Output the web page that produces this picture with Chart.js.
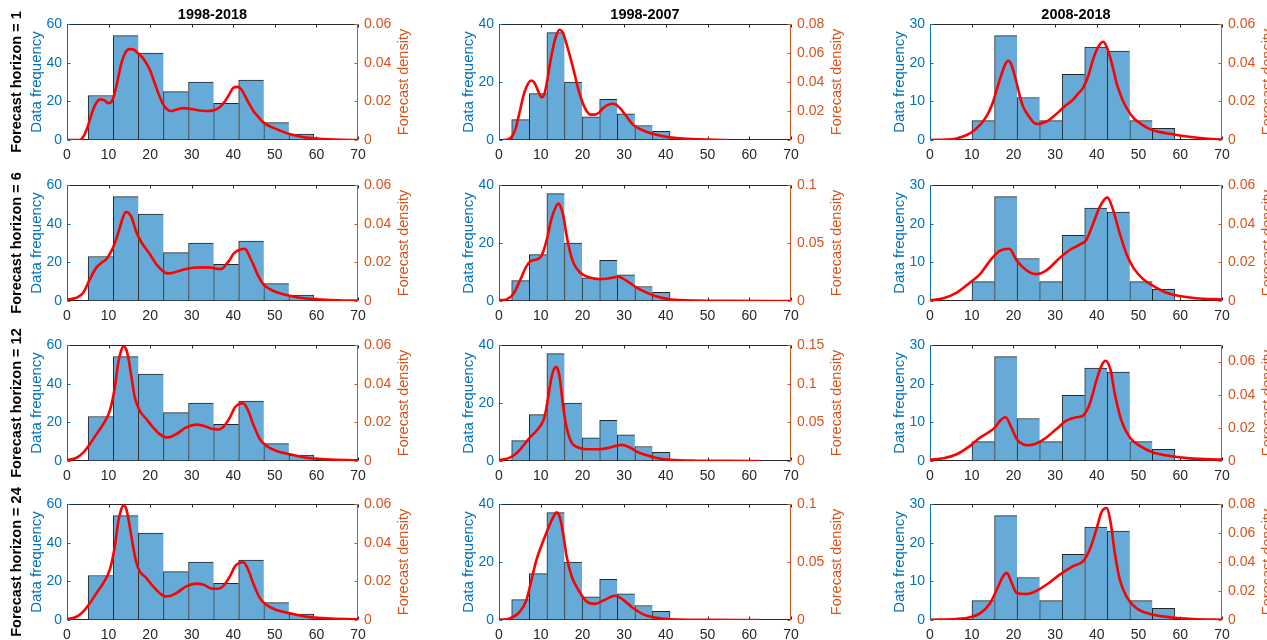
<!DOCTYPE html>
<html>
<head>
<meta charset="utf-8">
<script src="https://cdn.jsdelivr.net/npm/chart.js@4"></script>
<style>
html,body{margin:0;padding:0;background:#fff;overflow:hidden;width:1267px;height:640px;position:relative;}
canvas{position:absolute;}
</style>
</head>
<body>
<script>
// ---------------- DATA ----------------
const periods = ['1998-2018', '1998-2007', '2008-2018'];
const horizonLabels = ['Forecast horizon = 1', 'Forecast horizon = 6', 'Forecast horizon = 12', 'Forecast horizon = 24'];
const leftTitle = 'Data frequency';
const rightTitle = 'Forecast density';

// histogram bin edges and counts (same for every horizon)
const edgesAll   = [5.1, 11.13, 17.17, 23.2, 29.23, 35.27, 41.3, 47.33, 53.37, 59.4];
const countsAll  = [23, 54, 45, 25, 30, 19, 31, 9, 3];
const edgesEarly = [3.04, 7.26, 11.48, 15.69, 19.91, 24.13, 28.35, 32.57, 36.78, 41.0];
const countsEarly = [7, 16, 37, 20, 8, 14, 9, 5, 3];
const edgesLate  = [10.07, 15.47, 20.88, 26.28, 31.68, 37.09, 42.49, 47.89, 53.3, 58.7];
const countsLate = [5, 27, 11, 5, 17, 24, 23, 5, 3];

// axis limits
const xMax = 70;
const xStep = 10;
const freqMax  = [60, 40, 30];
const freqStep = [20, 20, 10];
const densMaxH1  = [0.06, 0.08, 0.06];
const densStepH1 = [0.02, 0.02, 0.02];
const densMaxH6  = [0.06, 0.1, 0.06];
const densStepH6 = [0.02, 0.05, 0.02];
const densMaxH12  = [0.06, 0.15, 0.07];
const densStepH12 = [0.02, 0.05, 0.02];
const densMaxH24  = [0.06, 0.1, 0.08];
const densStepH24 = [0.02, 0.05, 0.02];

// forecast densities [x, density]
const densH1All = [[0,0],[3,0],[4,0.002],[5,0.007],[6,0.014],[7,0.019],[8,0.021],[9,0.0205],[10,0.019],[11,0.021],[12,0.029],[13,0.039],[14,0.045],[15,0.047],[16,0.0468],[17,0.045],[18,0.043],[19,0.040],[20,0.036],[21,0.030],[22,0.024],[23,0.019],[24,0.016],[25,0.015],[26,0.0155],[28,0.0165],[30,0.016],[32,0.0153],[34,0.015],[35,0.0152],[36,0.016],[37,0.0175],[38,0.020],[39,0.0235],[40,0.027],[41,0.0275],[42,0.026],[43,0.022],[44,0.018],[45,0.0145],[46,0.012],[47,0.0096],[48,0.008],[50,0.006],[52,0.0042],[54,0.0028],[56,0.0018],[58,0.0011],[60,0.0007],[63,0.0003],[66,0.0001],[70,0]];
const densH1Early = [[1,0],[2,0.0003],[3,0.002],[4,0.008],[5,0.02],[6,0.032],[7,0.039],[7.7,0.041],[8.5,0.0395],[9.5,0.033],[10.2,0.0295],[10.8,0.031],[11.5,0.04],[12.5,0.057],[13.5,0.07],[14.5,0.076],[15.3,0.074],[16,0.068],[17,0.058],[18,0.047],[19,0.035],[20,0.026],[21,0.02],[22,0.0175],[23,0.0175],[24,0.019],[25,0.022],[26,0.024],[27.2,0.025],[28,0.0245],[29,0.022],[30,0.0185],[31,0.0145],[32,0.011],[33,0.0088],[34,0.0073],[35,0.006],[36,0.005],[38,0.0035],[40,0.0023],[42,0.0015],[45,0.0008],[48,0.0004],[52,0.0001],[55,0]];
const densH1Late = [[0,0],[4,0.0002],[6,0.0006],[7,0.0012],[8.8,0.0026],[10,0.004],[12,0.0078],[13,0.0105],[14,0.014],[15,0.019],[16,0.026],[17,0.033],[18,0.039],[18.75,0.041],[19.5,0.039],[20.75,0.0296],[21.5,0.023],[22.3,0.0174],[23,0.0145],[24,0.0113],[25,0.0088],[26,0.0083],[27,0.0088],[28,0.0096],[29.5,0.012],[31,0.0148],[32.5,0.0178],[34.3,0.0209],[35.5,0.024],[36.7,0.027],[38,0.0335],[39.1,0.0417],[40.3,0.048],[41.5,0.0508],[42.3,0.0485],[43.1,0.0435],[44,0.036],[44.7,0.0296],[45.5,0.0245],[46.3,0.02],[47.9,0.0139],[49,0.011],[50.3,0.0087],[52.7,0.0056],[54.5,0.0044],[56.7,0.0035],[60.7,0.0021],[65.4,0.0009],[70,0.0002]];

const densH6All = [[0,0.0008],[1,0.001],[2.3,0.0017],[3.9,0.0043],[5.5,0.0113],[7.1,0.0174],[8.3,0.0198],[9.5,0.0217],[11.1,0.0278],[12,0.033],[12.7,0.038],[13.5,0.0435],[14.2,0.046],[14.8,0.0455],[15.5,0.0435],[16.7,0.0356],[17.9,0.0304],[19.9,0.0243],[21.5,0.019],[23.5,0.0148],[24.3,0.0143],[25.5,0.0146],[27.1,0.0157],[29.5,0.0169],[31.5,0.0173],[33.5,0.0174],[35,0.0172],[36.7,0.0165],[37.5,0.017],[38.3,0.019],[39.2,0.0215],[40,0.0243],[41,0.026],[42.8,0.027],[43.5,0.025],[44,0.0226],[44.8,0.019],[45.6,0.0148],[46.4,0.0115],[47.2,0.0087],[48.8,0.0061],[50.5,0.0045],[52,0.0035],[56,0.0017],[60,0.0009],[65,0.0004],[70,0.0002]];
const densH6Early = [[0,0.0006],[1.8,0.0014],[3.4,0.0058],[5,0.0174],[6.6,0.030],[7.8,0.0348],[9,0.0357],[10.2,0.039],[11.4,0.052],[12.6,0.071],[13.6,0.081],[14.3,0.084],[15,0.079],[15.4,0.0739],[16,0.061],[16.6,0.049],[17.8,0.0333],[19.4,0.0246],[21.8,0.0203],[24.2,0.0188],[26.6,0.0197],[28.6,0.0209],[30.6,0.0174],[33,0.0116],[35.4,0.0072],[37.8,0.0038],[41,0.0014],[47.4,0.0003],[55,0.0001],[70,0]];
const densH6Late = [[0,0.0003],[3.2,0.0014],[6.4,0.0043],[9.6,0.0096],[12,0.0139],[14.4,0.0209],[16.8,0.026],[19,0.027],[20.8,0.0209],[22.3,0.0174],[23.9,0.0148],[25.5,0.0139],[28,0.016],[31.1,0.0223],[33.5,0.0264],[35.9,0.0292],[37.5,0.0317],[39.1,0.04],[40.7,0.0487],[42.5,0.0536],[43.9,0.047],[45.5,0.0348],[47.1,0.0243],[48.7,0.0174],[51.1,0.0113],[53.5,0.0078],[56.7,0.0043],[59.9,0.0026],[63.8,0.0014],[70,0.0008]];

const densH12All = [[0,0.0005],[2.3,0.0017],[3.9,0.0043],[5.5,0.0087],[7.1,0.0139],[8.7,0.019],[10.3,0.026],[11.5,0.038],[12.3,0.0504],[13,0.057],[13.6,0.0592],[14.2,0.058],[14.7,0.054],[15.5,0.0435],[16.3,0.033],[17.5,0.026],[19.1,0.0217],[20.7,0.0174],[22.3,0.0139],[23.9,0.0122],[25,0.0125],[26.3,0.0139],[28.7,0.0174],[31.1,0.0188],[32.7,0.0183],[35.1,0.0165],[36.5,0.0163],[37.5,0.0174],[39.2,0.0226],[40.4,0.0278],[41.5,0.0296],[42.4,0.0299],[43.6,0.026],[44.8,0.019],[46.4,0.0113],[48,0.0078],[50.4,0.0052],[53.6,0.0035],[57.6,0.0017],[62.4,0.0009],[70,0.0003]];
const densH12Early = [[0,0.0009],[2.6,0.0043],[4.2,0.01],[5.8,0.0196],[7.4,0.0304],[9,0.0391],[10.6,0.052],[11.2,0.064],[11.8,0.0826],[12.6,0.1087],[13.2,0.119],[13.7,0.1217],[14.2,0.117],[14.6,0.1065],[15.4,0.0696],[16.2,0.0435],[17.4,0.0239],[19,0.0174],[21,0.0152],[24.2,0.0152],[26.6,0.0174],[29.4,0.0209],[31.4,0.0174],[33,0.0122],[35.4,0.0074],[37.8,0.0039],[41,0.0017],[47.4,0.0004],[55,0.0001],[62.6,0]];
const densH12Late = [[0,0.0008],[3.2,0.0016],[6.4,0.0041],[9.6,0.0091],[12,0.0142],[14,0.0172],[15.6,0.0203],[16.8,0.0243],[18.1,0.0264],[19.5,0.0203],[20.8,0.0132],[22.3,0.0101],[23.5,0.0095],[25.5,0.0106],[27.9,0.0142],[30.3,0.0193],[32.7,0.0243],[35.1,0.0264],[36.7,0.0274],[38.3,0.0345],[39.9,0.0487],[41.2,0.058],[42.1,0.0605],[43.3,0.0548],[44.3,0.0406],[45.9,0.0243],[47.9,0.0142],[50.3,0.0091],[53.5,0.0051],[57.5,0.003],[62.3,0.0016],[70,0.0008]];

const densH24All = [[0,0.0005],[2.3,0.0017],[3.9,0.0043],[5.5,0.0087],[7.1,0.0139],[8.7,0.019],[10.3,0.026],[11.5,0.038],[12.3,0.0504],[13,0.057],[13.6,0.0592],[14.2,0.0578],[14.8,0.052],[15.9,0.038],[16.7,0.0296],[17.5,0.0252],[19.1,0.0217],[20.7,0.0174],[22.3,0.0139],[23.5,0.0122],[25,0.0125],[26.3,0.0139],[28.7,0.0174],[31.1,0.0188],[32.7,0.0183],[35.1,0.0162],[36.5,0.0162],[37.5,0.0174],[39.2,0.0226],[40.4,0.0278],[41.5,0.0296],[42.4,0.0299],[43.6,0.026],[44.8,0.019],[46.4,0.0113],[48,0.0078],[50.4,0.0052],[53.6,0.0035],[57.6,0.0017],[62.4,0.0009],[70,0.0003]];
const densH24Early = [[0,0.0003],[2.6,0.0014],[5,0.0072],[6.6,0.0174],[7.8,0.0348],[9,0.052],[10.6,0.0681],[12.2,0.0826],[13.2,0.09],[13.8,0.0928],[14.6,0.0884],[15.4,0.0739],[16.2,0.0551],[17.4,0.0377],[19,0.0261],[21,0.0159],[23,0.0139],[25,0.0168],[27.8,0.0209],[29.8,0.0174],[32.2,0.0101],[34.6,0.0049],[37,0.0023],[41,0.0006],[50,0.0001],[62.2,0]];
const densH24Late = [[0,0.0002],[6.4,0.0007],[9.6,0.0019],[12,0.0046],[14.4,0.0116],[16,0.0209],[17.5,0.03],[18.4,0.0325],[19.6,0.0255],[20.8,0.0186],[22.7,0.0179],[24.7,0.019],[27.9,0.0243],[31.1,0.0313],[34.3,0.0371],[36.7,0.0406],[38.3,0.0487],[39.9,0.0626],[41.1,0.0742],[42.3,0.0772],[43.3,0.0672],[44.3,0.0464],[45.5,0.0278],[47.1,0.0162],[49.5,0.0081],[52.7,0.0042],[57.5,0.0019],[63,0.0007],[70,0.0002]];

// ---------------- ASSEMBLY ----------------
const histEdges = [edgesAll, edgesEarly, edgesLate];
const histCounts = [countsAll, countsEarly, countsLate];
const densByRow = [
  [densH1All, densH1Early, densH1Late],
  [densH6All, densH6Early, densH6Late],
  [densH12All, densH12Early, densH12Late],
  [densH24All, densH24Early, densH24Late]
];
const densMaxByRow = [densMaxH1, densMaxH6, densMaxH12, densMaxH24];
const densStepByRow = [densStepH1, densStepH6, densStepH12, densStepH24];

// ---------------- STYLE / LAYOUT ----------------
const FONT = "'Liberation Sans', Arial, Helvetica, sans-serif";
const BLUE = '#0072BD';
const ORANGE = '#D95319';
const DARK = '#262626';
const colLeft = [67, 499, 930];
const colWidth = [291, 292, 292];
const rowTop = [24, 185, 345, 504];
const plotH = 116;
const padL = 67, padR = 70, padT = 24, padB = 24;

const matlabAxes = {
  id: 'matlabAxes',
  beforeDatasetsDraw(chart) {
    const {ctx, chartArea: a, scales} = chart;
    const L = Math.round(a.left) + 0.5, R = Math.round(a.right) - 0.5;
    const T = Math.round(a.top) + 0.5, B = Math.round(a.bottom) - 0.5;
    const tl = 3;
    ctx.save();
    ctx.lineWidth = 1;
    ctx.strokeStyle = DARK;
    ctx.beginPath();
    scales.x.ticks.forEach(t => {
      const px = Math.round(scales.x.getPixelForValue(t.value)) + 0.5;
      ctx.moveTo(px, B); ctx.lineTo(px, B - tl);
      ctx.moveTo(px, T); ctx.lineTo(px, T + tl);
    });
    ctx.moveTo(L, T); ctx.lineTo(R, T);
    ctx.moveTo(L, B); ctx.lineTo(R, B);
    ctx.stroke();
    ctx.strokeStyle = BLUE;
    ctx.beginPath();
    scales.y.ticks.forEach(t => {
      const py = Math.round(scales.y.getPixelForValue(t.value)) + 0.5;
      ctx.moveTo(L, py); ctx.lineTo(L + tl, py);
    });
    ctx.moveTo(L, T); ctx.lineTo(L, B);
    ctx.stroke();
    ctx.strokeStyle = ORANGE;
    ctx.beginPath();
    scales.y1.ticks.forEach(t => {
      const py = Math.round(scales.y1.getPixelForValue(t.value)) + 0.5;
      ctx.moveTo(R, py); ctx.lineTo(R - tl, py);
    });
    ctx.moveTo(R, T); ctx.lineTo(R, B);
    ctx.stroke();
    ctx.restore();
  },
  afterDraw(chart, args, opts) {
    const {ctx, chartArea: a} = chart;
    const cy = (a.top + a.bottom) / 2;
    ctx.save();
    ctx.textAlign = 'center';
    ctx.textBaseline = 'middle';
    // right axis title
    ctx.save();
    ctx.translate(a.right + 46, cy);
    ctx.rotate(-Math.PI / 2);
    ctx.fillStyle = ORANGE;
    ctx.font = '14.5px ' + FONT;
    ctx.fillText(opts.rightTitle, 0, 0);
    ctx.restore();
    if (opts.title) {
      ctx.fillStyle = '#000';
      ctx.font = 'bold 14.5px ' + FONT;
      ctx.fillText(opts.title, (a.left + a.right) / 2, a.top - 9);
    }
    if (opts.rowLabel) {
      ctx.save();
      ctx.translate(17, cy);
      ctx.rotate(-Math.PI / 2);
      ctx.fillStyle = '#000';
      ctx.font = 'bold 14.5px ' + FONT;
      ctx.fillText(opts.rowLabel, 0, 0);
      ctx.restore();
    }
    ctx.restore();
  }
};

const fmt = v => String(+(+v).toFixed(4));

function makePanel(r, c) {
  const W = padL + colWidth[c] + padR;
  const H = padT + plotH + padB;
  const cv = document.createElement('canvas');
  cv.width = W; cv.height = H;
  cv.style.width = W + 'px'; cv.style.height = H + 'px';
  cv.style.left = (colLeft[c] - padL) + 'px';
  cv.style.top = (rowTop[r] - padT) + 'px';
  document.body.appendChild(cv);

  const edges = histEdges[c];
  const counts = histCounts[c];
  const bars = counts.map((n, i) => ({x: (edges[i] + edges[i + 1]) / 2, y: n}));
  const dens = densByRow[r][c].map(p => ({x: p[0], y: p[1]}));

  new Chart(cv, {
    type: 'bar',
    data: {
      datasets: [
        {
          type: 'bar', data: bars, yAxisID: 'y', order: 2,
          backgroundColor: 'rgb(102,170,215)', borderColor: DARK,
          borderWidth: ctx => ({top: 1, left: 1, bottom: 1, right: ctx.dataIndex === counts.length - 1 ? 1 : 0}),
          borderSkipped: false, barPercentage: 1, categoryPercentage: 1
        },
        {
          type: 'line', data: dens, yAxisID: 'y1', order: 1,
          borderColor: '#ff0000', borderWidth: 2.6, pointRadius: 0,
          cubicInterpolationMode: 'monotone', fill: false
        }
      ]
    },
    options: {
      responsive: false, animation: false, devicePixelRatio: 1,
      layout: {padding: {top: padT, left: 0, right: 0, bottom: 0}},
      events: [],
      plugins: {
        legend: {display: false}, tooltip: {enabled: false},
        matlabAxes: {
          title: r === 0 ? periods[c] : null,
          rowLabel: c === 0 ? horizonLabels[r] : null,
          rightTitle: rightTitle
        }
      },
      scales: {
        x: {
          type: 'linear', min: 0, max: xMax, offset: false,
          grid: {display: false, drawTicks: false, drawOnChartArea: false},
          border: {display: false},
          ticks: {stepSize: xStep, padding: 7, color: DARK, font: {family: FONT, size: 14}, maxRotation: 0, autoSkip: false},
          afterFit: s => { s.height = padB; }
        },
        y: {
          type: 'linear', position: 'left', min: 0, max: freqMax[c],
          grid: {display: false, drawTicks: false, drawOnChartArea: false},
          border: {display: false},
          ticks: {stepSize: freqStep[c], padding: 5, color: BLUE, font: {family: FONT, size: 14}, callback: fmt},
          title: {display: true, text: leftTitle, color: BLUE, font: {family: FONT, size: 15}, padding: {top: 28, bottom: 0}},
          afterFit: s => { s.width = padL; }
        },
        y1: {
          type: 'linear', position: 'right', min: 0, max: densMaxByRow[r][c],
          grid: {display: false, drawTicks: false, drawOnChartArea: false},
          border: {display: false},
          ticks: {stepSize: densStepByRow[r][c], includeBounds: false, padding: 6, color: ORANGE, font: {family: FONT, size: 14}, callback: fmt},
          afterFit: s => { s.width = padR; }
        }
      }
    },
    plugins: [matlabAxes]
  });
}

for (let r = 0; r < 4; r++) {
  for (let c = 0; c < 3; c++) makePanel(r, c);
}
</script>
</body>
</html>
